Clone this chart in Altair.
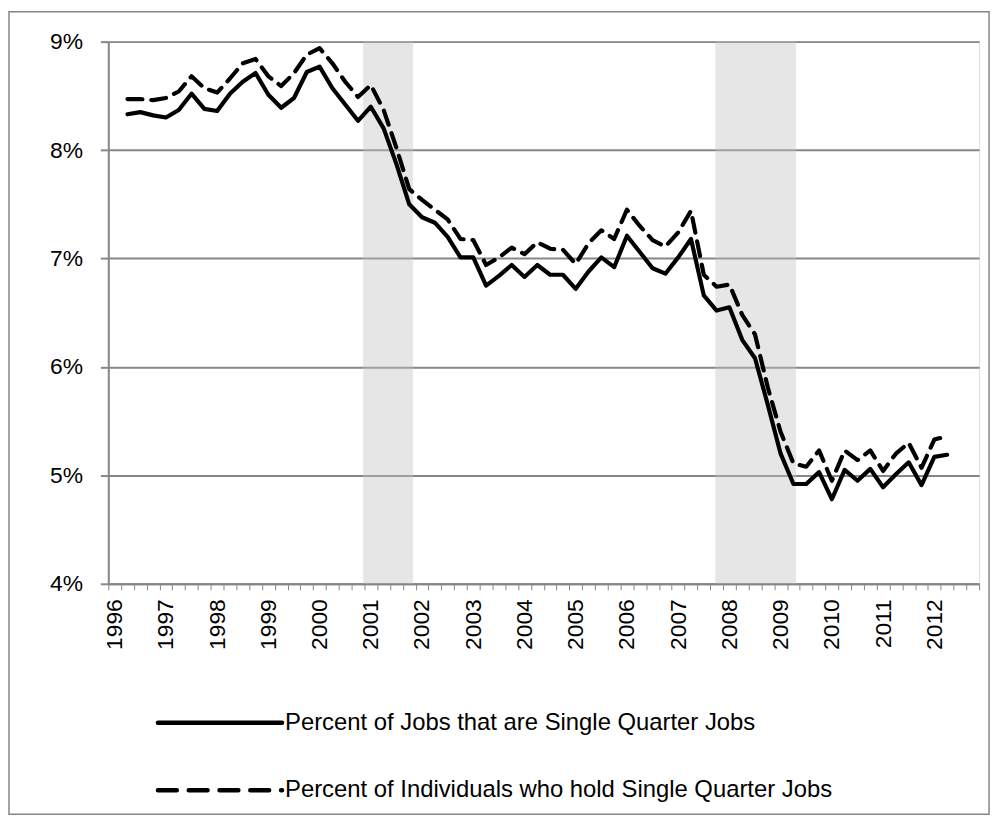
import altair as alt
import pandas as pd

# ---------------- data ----------------
years = list(range(1996, 2013))
quarters = [f"{y}Q{q}" for y in years for q in range(1, 5)]  # category axis, 68 quarters

first_quarter = "1996Q2"

jobs_pct = [
    8.33, 8.35, 8.32, 8.30, 8.37, 8.52, 8.38, 8.36, 8.52, 8.63, 8.71, 8.51, 8.39,
    8.48, 8.72, 8.77, 8.57, 8.42, 8.27, 8.40, 8.20, 7.87, 7.50, 7.38, 7.33, 7.20,
    7.01, 7.01, 6.75, 6.84, 6.94, 6.83, 6.94, 6.85, 6.85, 6.72, 6.88, 7.01, 6.92,
    7.21, 7.06, 6.91, 6.86, 7.01, 7.18, 6.66, 6.52, 6.55, 6.25, 6.08, 5.65, 5.20,
    4.92, 4.92, 5.03, 4.78, 5.05, 4.95, 5.06, 4.89, 5.01, 5.12, 4.91, 5.17, 5.19,
]
indiv_pct = [
    8.47, 8.47, 8.46, 8.48, 8.54, 8.68, 8.57, 8.53, 8.66, 8.80, 8.84, 8.68, 8.59,
    8.71, 8.88, 8.94, 8.80, 8.63, 8.49, 8.60, 8.37, 8.02, 7.64, 7.54, 7.45, 7.36,
    7.18, 7.17, 6.94, 7.01, 7.10, 7.04, 7.15, 7.09, 7.08, 6.95, 7.14, 7.26, 7.18,
    7.45, 7.30, 7.17, 7.11, 7.24, 7.44, 6.85, 6.74, 6.76, 6.48, 6.30, 5.81, 5.40,
    5.11, 5.08, 5.23, 4.95, 5.23, 5.14, 5.23, 5.04, 5.20, 5.30, 5.07, 5.33, 5.36,
]

# recession shading, in quarter-category units along the axis
rec_start = [19.9, 47.4]
rec_end = [23.8, 53.7]

series_names = [
    "Percent of Jobs that are Single Quarter Jobs",
    "Percent of Individuals who hold Single Quarter Jobs",
]

y_ticks = [4, 5, 6, 7, 8, 9]

# ---------------- tables ----------------
start = quarters.index(first_quarter)
rows = []
for k, (a, b) in enumerate(zip(jobs_pct, indiv_pct)):
    pos = start + k + 0.5  # centre of the quarter's category band
    rows.append({"quarter": quarters[start + k], "pos": pos, "series": series_names[0], "value": a})
    rows.append({"quarter": quarters[start + k], "pos": pos, "series": series_names[1], "value": b})
df = pd.DataFrame(rows)
rec_df = pd.DataFrame({"start": rec_start, "end": rec_end})

# ---------------- styling ----------------
FONT = "Liberation Sans"
GRAY = "#868686"
W, H = 877, 546
N = len(quarters)
FS = 23
LEG_FS = 24

x_scale = alt.Scale(domain=[0, N], nice=False, zero=False)
y_scale = alt.Scale(domain=[min(y_ticks), max(y_ticks)], nice=False, zero=False)

x_axis = alt.Axis(
    values=list(range(N + 1)),
    labelExpr=f"(datum.value % 4 == 0 && datum.value < {N}) ? '' + ({years[0]} + datum.value / 4) : ''",
    labelAngle=-90,
    labelOffset=W / N / 2,
    labelOverlap=False,
    labelFlush=False,
    labelPadding=9,
    labelFont=FONT,
    labelFontSize=FS,
    labelColor="black",
    tickSize=6,
    tickWidth=1,
    tickColor=GRAY,
    domainColor=GRAY,
    domainWidth=2,
    grid=False,
    title=None,
)
y_axis = alt.Axis(
    values=y_ticks,
    labelExpr="datum.value + '%'",
    labelPadding=18,
    labelFont=FONT,
    labelFontSize=FS,
    labelColor="black",
    tickSize=8,
    tickWidth=2,
    tickColor=GRAY,
    domainColor=GRAY,
    domainWidth=2,
    grid=True,
    gridColor=GRAY,
    gridWidth=2,
    title=None,
)

shade = alt.Chart(rec_df).mark_rect(fill="#c4c4c4", opacity=0.42).encode(
    x=alt.X("start:Q", scale=x_scale, axis=x_axis),
    x2="end:Q",
    y=alt.Y(datum=max(y_ticks), scale=y_scale, axis=y_axis),
    y2=alt.Y2(datum=min(y_ticks)),
)

base = alt.Chart(df).encode(
    x=alt.X("pos:Q", scale=x_scale, axis=x_axis),
    y=alt.Y("value:Q", scale=y_scale, axis=y_axis),
)

solid = base.transform_filter(alt.datum.series == series_names[0]).mark_line(
    color="black", strokeWidth=4.2, strokeJoin="round", strokeCap="round"
)
dashed = base.transform_filter(alt.datum.series == series_names[1]).mark_line(
    color="black", strokeWidth=4.2, strokeJoin="round", strokeCap="round", strokeDash=[15, 9]
)

# ---------------- custom legend ----------------
leg1 = pd.DataFrame({"label": [series_names[0]]})
leg2 = pd.DataFrame({"label": [series_names[1]]})

leg_line1 = alt.Chart(leg1).mark_rule(color="black", strokeWidth=4.5, strokeCap="round").encode(
    x=alt.value(50), x2=alt.value(175), y=alt.value(686)
)
leg_line2 = alt.Chart(leg2).mark_rule(
    color="black", strokeWidth=4.5, strokeCap="round", strokeDash=[19, 12]
).encode(x=alt.value(50), x2=alt.value(175), y=alt.value(754))
leg_text1 = alt.Chart(leg1).mark_text(
    align="left", baseline="middle", font=FONT, fontSize=LEG_FS, color="black"
).encode(x=alt.value(178), y=alt.value(686), text="label:N")
leg_text2 = alt.Chart(leg2).mark_text(
    align="left", baseline="middle", font=FONT, fontSize=LEG_FS, color="black"
).encode(x=alt.value(178), y=alt.value(754), text="label:N")

# outer chart-area border
frame = alt.Chart(pd.DataFrame({"f": [0]})).mark_rect(
    filled=False, stroke=GRAY, strokeWidth=1.5
).encode(x=alt.value(-100), x2=alt.value(887), y=alt.value(-30), y2=alt.value(778))

chart = (
    alt.layer(frame, shade, solid, dashed, leg_line1, leg_line2, leg_text1, leg_text2)
    .properties(width=W, height=H, padding=0, background="white")
    .configure_view(strokeWidth=0)
    .configure(font=FONT)
)

chart.save("out.html", embed_options={"renderer": "svg", "actions": False})
